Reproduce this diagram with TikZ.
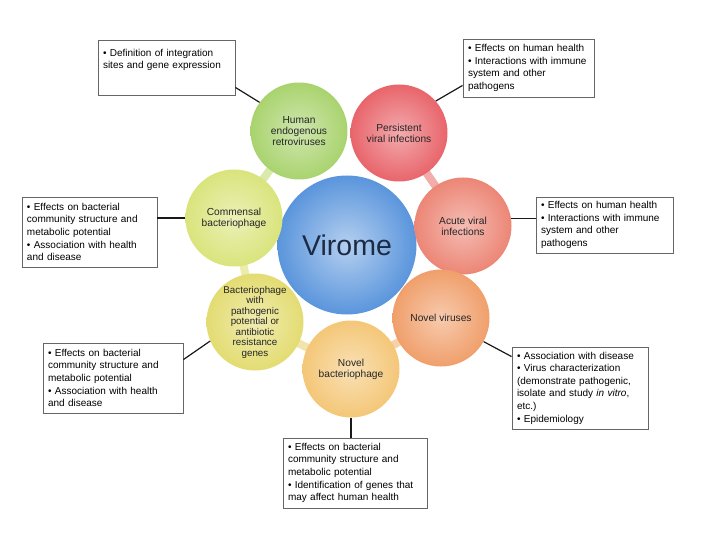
\documentclass[tikz,border=0pt]{standalone}
\usepackage{fontspec}
\setmainfont{Liberation Sans}
\usetikzlibrary{backgrounds}

\definecolor{viromeC}{HTML}{5A95DC}
\definecolor{viromeT}{HTML}{1B2A45}
\definecolor{hervC}{HTML}{A9D36E}
\definecolor{persC}{HTML}{E8656B}
\definecolor{acuteC}{HTML}{EC8676}
\definecolor{novvC}{HTML}{F09F6B}
\definecolor{novbC}{HTML}{F4C778}
\definecolor{phageC}{HTML}{E3DC72}
\definecolor{commC}{HTML}{DAE47C}

\begin{document}
\begin{tikzpicture}[
    x=1pt, y=-1pt,
    hub/.style={circle, minimum size=139pt, inner sep=0pt, shading=radial,
                inner color=viromeC!45!white, outer color=viromeC,
                text=viromeT, font=\fontsize{28.5}{30}\selectfont},
    petal/.style={circle, minimum size=97pt, inner sep=0pt, shading=radial,
                  inner color=#1!55!white, outer color=#1,
                  align=center, text=black!85, font=\fontsize{10.2}{11.2}\selectfont},
    note/.style={rectangle, draw=black!60, line width=0.9pt, fill=white,
                 inner xsep=5pt, align=left, font=\fontsize{10}{12.6}\selectfont},
    lead/.style={draw=black!90, line width=1.2pt},
    bridge/.style={line width=8pt}
]
\useasboundingbox (0,0) rectangle (720,540);

\node[hub]          (virome) at (347,245) {Virome};
\node[petal=hervC]  (herv)   at (299,131) {Human\\endogenous\\retroviruses};
\node[petal=persC]  (pers)   at (399,133) {Persistent\\viral infections};
\node[petal=acuteC] (acute)  at (463,226) {Acute viral\\infections};
\node[petal=novvC]  (novv)   at (441,318) {Novel viruses};
\node[petal=novbC]  (novb)   at (351,369) {Novel\\bacteriophage};
\node[petal=phageC, font=\fontsize{9.8}{10.5}\selectfont] (phage) at (255,322)
    {Bacteriophage\\with\\pathogenic\\potential or\\antibiotic\\resistance\\genes};
\node[petal=commC]  (comm)   at (234,218) {Commensal\\bacteriophage};

\begin{scope}[on background layer]
\draw[bridge, draw=hervC!50!commC!60!white]   (herv.center)  -- (comm.center);
\draw[bridge, draw=persC!50!acuteC!60!white]  (pers.center)  -- (acute.center);
\draw[bridge, draw=acuteC!50!novvC!60!white]  (acute.center) -- (novv.center);
\draw[bridge, draw=novvC!50!novbC!60!white]   (novv.center)  -- (novb.center);
\draw[bridge, draw=novbC!50!phageC!60!white]  (novb.center)  -- (phage.center);
\draw[bridge, draw=phageC!50!commC!60!white]  (phage.center) -- (comm.center);
\end{scope}

\node[note, text width=127pt, minimum height=55pt, text depth=30pt] (defbox) at (166.5,67.5)
    {• Definition of integration\\sites and gene expression};
\node[note, text width=121pt, minimum height=58pt] (hbox1) at (528.5,68)
    {• Effects on human health\\• Interactions with immune\\system and other\\pathogens};
\node[note, text width=125pt, minimum height=70pt] (bbox1) at (89.5,232)
    {• Effects on bacterial\\community structure and\\metabolic potential\\• Association with health\\and disease};
\node[note, text width=127pt, minimum height=56pt] (hbox2) at (604.5,225)
    {• Effects on human health\\• Interactions with immune\\system and other\\pathogens};
\node[note, text width=130pt, minimum height=70pt] (bbox2) at (113,378)
    {• Effects on bacterial\\community structure and\\metabolic potential\\• Association with health\\and disease};
\node[note, text width=126pt, minimum height=82pt] (novbox) at (580,388)
    {• Association with disease\\• Virus characterization\\(demonstrate pathogenic,\\isolate and study \textit{in vitro},\\etc.)\\• Epidemiology};
\node[note, text width=134pt, minimum height=70pt] (genbox) at (355,473)
    {• Effects on bacterial\\community structure and\\metabolic potential\\• Identification of genes that\\may affect human health};

\draw[lead] (herv.144)  -- ([yshift=8pt]defbox.south east);
\draw[lead] (pers.41)   -- ([yshift=12pt]hbox1.south west);
\draw[lead] (comm.west) -- (comm.west -| bbox1.east);
\draw[lead] (acute.9)   -- (acute.9 -| hbox2.west);
\draw[lead] (phage.203) -- ([yshift=-17pt]bbox2.north east);
\draw[lead] (novv.-29)  -- ([yshift=-10pt]novbox.north west);
\draw[lead] (novb.south) -- (novb.south |- genbox.north);
\end{tikzpicture}
\end{document}
